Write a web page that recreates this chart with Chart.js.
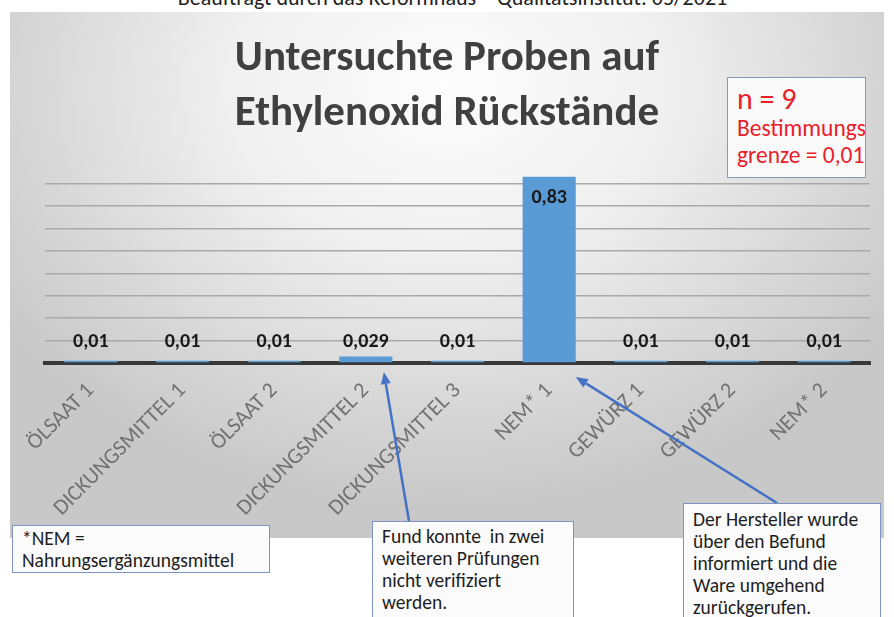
<!DOCTYPE html>
<html><head><meta charset="utf-8">
<script src="https://cdn.jsdelivr.net/npm/chart.js@4.4.0/dist/chart.umd.min.js"></script>
<style>
html,body{margin:0;padding:0;width:894px;height:617px;overflow:hidden;background:#fff;}
#panel{position:absolute;left:10px;top:12px;width:874px;height:526px;
 background:radial-gradient(ellipse 62% 80% at 50% 14%, #fdfdfd 0%, #f0f0f0 40%, #d8d8d8 75%, #c8c8c8 100%);}
#wrap{position:absolute;left:0;top:0;width:894px;height:617px;}
.f{font-family:'Carlito','Liberation Sans Narrow','DejaVu Sans Condensed','Open Sans',sans-serif;}
#header{position:absolute;left:0;width:905px;top:-16px;text-align:center;font-size:22px;color:#222;}
.box{position:absolute;background:#fbfbfb;border:1.5px solid #7d93c2;color:#1e1e1e;font-size:19.5px;line-height:22px;box-sizing:border-box;padding-left:9px;white-space:nowrap;}
#nbox{position:absolute;left:727px;top:77px;width:139px;height:101px;background:#fafafa;border:1.5px solid #8797bd;box-sizing:border-box;color:#e8202a;padding-left:9px;white-space:nowrap;}
#nbox .a{font-size:30px;line-height:30px;margin-top:6px;}
#nbox .b{font-size:23.5px;line-height:26px;margin-top:1px;}
</style></head>
<body>
<div id="panel"></div>
<div id="header" class="f">Beauftragt durch das Reformhaus – Qualitätsinstitut: 05/2021</div>
<div id="wrap"><canvas id="c" width="894" height="617"></canvas></div>
<div id="nbox" class="f"><div class="a">n = 9</div><div class="b">Bestimmungs</div><div class="b">grenze = 0,01</div></div>
<div class="box f" id="b1" style="left:12px;top:525px;width:258px;height:48px;padding-top:1px;">*NEM =<br>Nahrungsergänzungsmittel</div>
<div class="box f" id="b2" style="left:372px;top:521px;width:202px;height:110px;padding-top:3px;">Fund konnte&nbsp; in zwei<br>weiteren Prüfungen<br>nicht verifiziert<br>werden.</div>
<div class="box f" id="b3" style="left:683px;top:503px;width:198px;height:130px;padding-top:4px;">Der Hersteller wurde<br>über den Befund<br>informiert und die<br>Ware umgehend<br>zurückgerufen.</div>
<script>
const categories = ['ÖLSAAT 1','DICKUNGSMITTEL 1','ÖLSAAT 2','DICKUNGSMITTEL 2','DICKUNGSMITTEL 3','NEM* 1','GEWÜRZ 1','GEWÜRZ 2','NEM* 2'];
const values = [0.01, 0.01, 0.01, 0.029, 0.01, 0.83, 0.01, 0.01, 0.01];
const valueLabels = ['0,01','0,01','0,01','0,029','0,01','0,83','0,01','0,01','0,01'];
const titleLines = ['Untersuchte Proben auf','Ethylenoxid Rückstände'];
const arrowTargets = [3, 5];

const FONT = "'Carlito','Liberation Sans Narrow','DejaVu Sans Condensed','Open Sans',sans-serif";

const labelPlugin = {
  id: 'valueLabels',
  afterDatasetsDraw(chart) {
    const ctx = chart.ctx;
    const meta = chart.getDatasetMeta(0);
    const ys = chart.scales.y;
    ctx.save();
    ctx.font = "bold 20px " + FONT;
    ctx.fillStyle = '#1a1a1a';
    ctx.textAlign = 'center';
    ctx.textBaseline = 'middle';
    meta.data.forEach((bar, i) => {
      const v = values[i];
      let y;
      if (v > 0.5) y = bar.y + 21;
      else y = ys.getPixelForValue(0.1) + 1;
      ctx.fillText(valueLabels[i], bar.x, y);
    });
    ctx.restore();
  }
};

const arrowPlugin = {
  id: 'arrows',
  afterDraw(chart) {
    const ctx = chart.ctx;
    const meta = chart.getDatasetMeta(0);
    const base = chart.scales.y.getPixelForValue(0);
    const b2 = document.getElementById('b2').getBoundingClientRect();
    const b3 = document.getElementById('b3').getBoundingClientRect();
    const bar1 = meta.data[arrowTargets[0]];
    const bar2 = meta.data[arrowTargets[1]];
    const arrows = [
      {from:[b2.left + 37, b2.top], to:[bar1.x + 18, base + 9]},
      {from:[b3.left + 94, b3.top], to:[bar2.x + bar2.width/2, base + 14]}
    ];
    ctx.save();
    ctx.strokeStyle = '#4472c4';
    ctx.fillStyle = '#4472c4';
    ctx.lineWidth = 2.5;
    arrows.forEach(a => {
      const [x1,y1] = a.from, [x2,y2] = a.to;
      const ang = Math.atan2(y2-y1, x2-x1);
      const L = 12, W = 5;
      const bx = x2 - L*Math.cos(ang), by = y2 - L*Math.sin(ang);
      ctx.beginPath(); ctx.moveTo(x1,y1); ctx.lineTo(bx,by); ctx.stroke();
      ctx.beginPath();
      ctx.moveTo(x2,y2);
      ctx.lineTo(bx + W*Math.sin(ang), by - W*Math.cos(ang));
      ctx.lineTo(bx - W*Math.sin(ang), by + W*Math.cos(ang));
      ctx.closePath(); ctx.fill();
    });
    ctx.restore();
  }
};

new Chart(document.getElementById('c'), {
  type: 'bar',
  data: {
    labels: categories,
    datasets: [{
      data: values,
      backgroundColor: '#5b9bd5',
      borderWidth: 0,
      categoryPercentage: 1.0,
      barPercentage: 0.58
    }]
  },
  options: {
    responsive: false,
    devicePixelRatio: 1,
    animation: false,
    layout: { padding: { left: 24, right: 24, top: 0, bottom: 74 } },
    plugins: {
      legend: { display: false },
      tooltip: { enabled: false },
      title: {
        display: true,
        text: titleLines,
        color: '#404040',
        font: { family: FONT, size: 43, weight: 'bold', lineHeight: 1.28 },
        padding: { top: 32, bottom: 19 }
      }
    },
    scales: {
      x: {
        z: 1,
        grid: { display: false, drawTicks: false },
        border: { display: true, color: '#383838', width: 4 },
        ticks: {
          autoSkip: false,
          maxRotation: 45, minRotation: 45,
          padding: 15,
          color: '#727272',
          font: { family: FONT, size: 22 }
        },
        afterFit(scale) { scale.height = 180; }
      },
      y: {
        min: 0, max: 0.9,
        ticks: { display: false, stepSize: 0.1 },
        border: { display: false },
        grid: {
          drawTicks: false,
          lineWidth: 1.5,
          color: (c) => (c.tick && c.tick.value > 0.85) ? 'rgba(0,0,0,0)' : '#a9a9a9'
        },
        afterFit(scale) { scale.width = 21; }
      }
    }
  },
  plugins: [labelPlugin, arrowPlugin]
});
</script>
</body></html>
